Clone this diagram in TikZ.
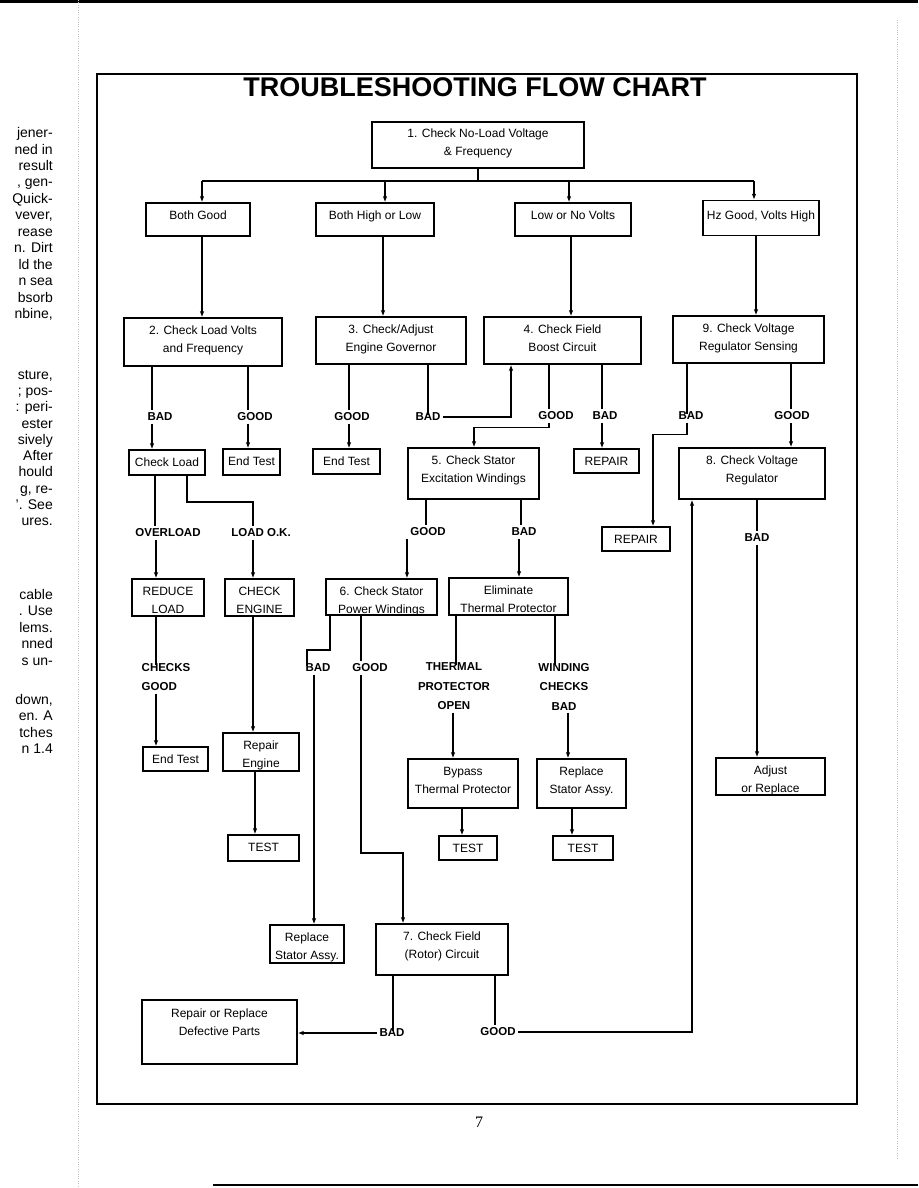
\documentclass[tikz,border=0pt]{standalone}
\usepackage{fontspec}
\setmainfont{Liberation Sans}
\newfontfamily\pagenumfont{Liberation Serif}
\usetikzlibrary{arrows.meta}
\newcommand{\chartboxfont}{\fontsize{12}{18.5}\selectfont}
\newcommand{\charttagfont}{\fontsize{11.5}{19.5}\selectfont\bfseries}
\newcommand{\twolines}[2]{\begin{tabular}[t]{@{}c@{}}#1\\#2\end{tabular}}

\begin{document}
\begin{tikzpicture}[x=1pt,y=-1pt,
  box/.style={draw, line width=1.3pt, inner sep=0pt, font=\chartboxfont, text height=16pt},
  tag/.style={font=\charttagfont, inner sep=2.5pt, align=center},
  frag/.style={anchor=base east, inner sep=0pt, font=\fontsize{14}{14}\selectfont},
  link/.style={line width=1.3pt},
  flow/.style={line width=1.3pt, -{Latex[length=6pt,width=4.5pt]}},
  into/.style={shorten >=-5pt}]
\useasboundingbox (0,0) rectangle (918,1188);

% page of the manual
\draw[line width=3pt] (0,2) -- (918,2);
\draw[line width=2pt] (213,1185) -- (918,1185);
\draw[gray!50, dotted] (78,0) -- (78,1188);
\draw[gray!50, dotted] (897,20) -- (897,1160);
\draw[line width=1.3pt] (97,74) rectangle (857,1104);
\node[font=\pagenumfont\fontsize{16}{16}\selectfont] (pagenum) at (479,1122) {7};
\foreach \yy/\t [count=\k] in {137/jener-, 154/ned in, 170.5/result, 186.5/{, gen-}, 203.5/Quick-,
    219.5/{vever,}, 236.5/rease, 252.5/n. Dirt, 269.5/ld the, 285.5/n sea, 302/bsorb, 318.5/{nbine,},
    379.5/{sture,}, 395.5/; pos-, 411.5/: peri-, 428.5/ester, 444.5/sively, 460.5/After, 476.5/hould,
    493.5/{g, re-}, 509.5/'. See, 525.5/ures., 599.5/cable, 615.5/. Use, 632.5/lems., 648.5/nned,
    665.5/s un-, 704.5/{down,}, 720.5/en. A, 737.5/tches, 753.5/n 1.4}
  \node[frag] (frag\k) at (53,\yy) {\t};

% title and first check
\node[font=\fontsize{27}{27}\selectfont\bfseries] (title) at (475,87) {TROUBLESHOOTING FLOW CHART};
\node[box, minimum width=212, minimum height=46, text height=15pt, text depth=31pt] (b1) at (478,145)
  {\twolines{1. Check No-Load Voltage}{\& Frequency}};

% symptoms
\node[box, minimum width=104, minimum height=33, text depth=17pt] (bothgood) at (198,219.5) {Both Good};
\node[box, minimum width=118, minimum height=33, text depth=17pt] (highlow) at (375,219.5) {Both High or Low};
\node[box, minimum width=116, minimum height=33, text depth=17pt] (lowvolts) at (573,219.5) {Low or No Volts};
\node[box, minimum width=116, minimum height=35, text height=18.5pt, text depth=16.5pt] (hzgood) at (761,218) {Hz Good, Volts High};

% checks 2, 3, 4, 9
\node[box, minimum width=158, minimum height=48, text depth=32pt] (b2) at (203,342) {\twolines{2. Check Load Volts}{and Frequency}};
\node[box, minimum width=150, minimum height=47, text depth=31pt] (b3) at (391,340.5) {\twolines{3. Check/Adjust}{Engine Governor}};
\node[box, minimum width=157, minimum height=47, text depth=31pt] (b4) at (562.5,340.5) {\twolines{4. Check Field}{Boost Circuit}};
\node[box, minimum width=151, minimum height=47, text depth=31pt] (b9) at (748.5,339.5) {\twolines{9. Check Voltage}{Regulator Sensing}};

\node[tag] (bad2) at (160,417) {BAD};
\node[tag] (good2) at (255,417) {GOOD};
\node[tag] (good3) at (352,417) {GOOD};
\node[tag] (bad3) at (428,417) {BAD};
\node[tag] (good4) at (556,416) {GOOD};
\node[tag] (bad4) at (605,416) {BAD};
\node[tag] (bad9) at (691,416) {BAD};
\node[tag] (good9) at (792,416) {GOOD};

\node[box, minimum width=76, minimum height=25, text depth=9pt] (checkload) at (167,462.5) {Check Load};
\node[box, minimum width=57, minimum height=26, text depth=10pt] (endtestA) at (251.5,462) {End Test};
\node[box, minimum width=67, minimum height=25, text depth=9pt] (endtestB) at (346.5,461.5) {End Test};
\node[box, minimum width=131, minimum height=51, text depth=35pt] (b5) at (473.5,473.5) {\twolines{5. Check Stator}{Excitation Windings}};
\node[box, minimum width=65, minimum height=24, text depth=8pt] (repairA) at (606.5,461) {REPAIR};
\node[box, minimum width=146, minimum height=51, text depth=35pt] (b8) at (752,473.5) {\twolines{8. Check Voltage}{Regulator}};

\node[tag] (overload) at (168,533) {OVERLOAD};
\node[tag] (loadok) at (261,533) {LOAD O.K.};
\node[tag] (good5) at (428,532) {GOOD};
\node[tag] (bad5) at (524,532) {BAD};
\node[box, minimum width=68, minimum height=24, text depth=8pt] (repairB) at (636,539) {REPAIR};
\node[tag] (bad8) at (757,538) {BAD};

\node[box, minimum width=72, minimum height=37, text depth=21pt] (reduce) at (168,597.5) {\twolines{REDUCE}{LOAD}};
\node[box, minimum width=69, minimum height=37, text depth=21pt] (checkengine) at (259.5,597.5) {\twolines{CHECK}{ENGINE}};
\node[box, minimum width=111, minimum height=36, text depth=20pt] (b6) at (381.5,597) {\twolines{6. Check Stator}{Power Windings}};
\node[box, minimum width=119, minimum height=37, text depth=21pt] (elim) at (508.5,596.5) {\twolines{Eliminate}{Thermal Protector}};

\node[tag, align=left, anchor=west] (checksgood) at (139,677) {CHECKS\\GOOD};
\node[tag] (bad6) at (318,668) {BAD};
\node[tag] (good6) at (370,668) {GOOD};
\node[tag] (thermal) at (454,686.5) {THERMAL\\PROTECTOR\\OPEN};
\node[tag] (winding) at (564,686.5) {WINDING\\CHECKS\\BAD};

\node[box, minimum width=65, minimum height=24, text depth=8pt] (endtestC) at (175.5,759) {End Test};
\node[box, minimum width=76, minimum height=38, text depth=22pt] (repairengine) at (261,752) {\twolines{Repair}{Engine}};
\node[box, minimum width=110, minimum height=49, text depth=33pt] (bypass) at (463,783.5) {\twolines{Bypass}{Thermal Protector}};
\node[box, minimum width=89, minimum height=49, text depth=33pt] (replaceA) at (581.5,783.5) {\twolines{Replace}{Stator Assy.}};
\node[box, minimum width=109, minimum height=37, text depth=21pt] (adjust) at (770.5,776.5) {\twolines{Adjust}{or Replace}};

\node[box, minimum width=71, minimum height=26, text depth=10pt] (testA) at (263.5,848) {TEST};
\node[box, minimum width=58, minimum height=24, text depth=8pt] (testB) at (468,848) {TEST};
\node[box, minimum width=60, minimum height=24, text depth=8pt] (testC) at (583,848) {TEST};

\node[box, minimum width=74, minimum height=38, text depth=22pt] (replaceB) at (307,944) {\twolines{Replace}{Stator Assy.}};
\node[box, minimum width=132, minimum height=51, text depth=35pt] (b7) at (442,949.5) {\twolines{7. Check Field}{(Rotor) Circuit}};
\node[box, minimum width=155, minimum height=64, text height=17pt, text depth=47pt] (repairdef) at (219.5,1032)
  {\twolines{Repair or Replace}{Defective Parts}};
\node[tag] (bad7) at (392,1033) {BAD};
\node[tag] (good7) at (498,1032) {GOOD};

% connectors
\coordinate (busL) at (202,181);
\coordinate (busR) at (754,181);
\draw[link] (b1.south) -- (b1.south |- busL);
\draw[link] (busL) -- (busR);
\foreach \n/\x in {bothgood/202, highlow/385, lowvolts/569, hzgood/754}
  \draw[flow] (\x,181) -- (\x,0 |- \n.north);
\foreach \a/\b/\x in {bothgood/b2/202, highlow/b3/383, lowvolts/b4/571, hzgood/b9/756}
  \draw[flow] (\x,0 |- \a.south) -- (\x,0 |- \b.north);

\draw[link] (152,0 |- b2.south) -- (152,0 |- bad2.north);
\draw[link] (248,0 |- b2.south) -- (248,0 |- good2.north);
\draw[flow] (152,0 |- bad2.south) -- (152,0 |- checkload.north);
\draw[flow] (248,0 |- good2.south) -- (248,0 |- endtestA.north);

\draw[link] (349,0 |- b3.south) -- (349,0 |- good3.north);
\draw[flow] (349,0 |- good3.south) -- (349,0 |- endtestB.north);
\draw[link, into] (428,0 |- b3.south) -- (428,0 |- bad3.north);
\draw[flow] (bad3.east) -| (511,0 |- b4.south);

\draw[link] (549,0 |- b4.south) -- (549,0 |- good4.north);
\draw[flow] (549,0 |- good4.south) -- ++(0,5) -| (474,0 |- b5.north);
\draw[link] (602,0 |- b4.south) -- (602,0 |- bad4.north);
\draw[flow] (602,0 |- bad4.south) -- (602,0 |- repairA.north);

\draw[link, into] (687,0 |- b9.south) -- (687,0 |- bad9.north);
\draw[flow] (687,0 |- bad9.south) -- ++(0,12) -| (653,0 |- repairB.north);
\draw[link] (791,0 |- b9.south) -- (791,0 |- good9.north);
\draw[flow] (791,0 |- good9.south) -- (791,0 |- b8.north);

\draw[link] (757,0 |- b8.south) -- (bad8.north);
\draw[flow] (bad8.south) -- (757,0 |- adjust.north);

\draw[link] (155,0 |- checkload.south) -- (155,0 |- overload.north);
\draw[link] (187,0 |- checkload.south) -- (187,502) -| (253,0 |- loadok.north);
\draw[flow] (156,0 |- overload.south) -- (156,0 |- reduce.north);
\draw[flow] (253,0 |- loadok.south) -- (253,0 |- checkengine.north);

\draw[link] (426,0 |- b5.south) -- (426,0 |- good5.north);
\draw[link] (521,0 |- b5.south) -- (521,0 |- bad5.north);
\draw[flow] (407,0 |- good5.south) -- (407,0 |- b6.north);
\draw[flow] (519,0 |- bad5.south) -- (519,0 |- elim.north);

\draw[link, into] (156,0 |- reduce.south) -- (156,0 |- checksgood.north);
\draw[flow] (156,0 |- checksgood.south) -- (156,0 |- endtestC.north);
\draw[flow] (253,0 |- checkengine.south) -- (253,0 |- repairengine.north);
\draw[flow] (255,0 |- repairengine.south) -- (255,0 |- testA.north);

\draw[link, into] (330,0 |- b6.south) -- (330,650) -| (307,0 |- bad6.north);
\draw[flow] (314,0 |- bad6.south) -- (314,0 |- replaceB.north);
\draw[link] (361,0 |- b6.south) -- (361,0 |- good6.north);
\draw[flow] (361,0 |- good6.south) -- (361,853) -| (403,0 |- b7.north);

\draw[link, into] (456,0 |- elim.south) -- (456,0 |- thermal.north);
\draw[link, into] (555,0 |- elim.south) -- (555,0 |- winding.north);
\draw[flow] (453,0 |- thermal.south) -- (453,0 |- bypass.north);
\draw[flow] (568,0 |- winding.south) -- (568,0 |- replaceA.north);
\draw[flow] (462,0 |- bypass.south) -- (462,0 |- testB.north);
\draw[flow] (572,0 |- replaceA.south) -- (572,0 |- testC.north);

\draw[link, into] (393,0 |- b7.south) -- (393,0 |- bad7.north);
\draw[flow] (bad7.west) -- (bad7.west -| repairdef.east);
\draw[link] (495,0 |- b7.south) -- (495,0 |- good7.north);
\draw[flow] (good7.east) -| (692,0 |- b8.south);
\end{tikzpicture}
\end{document}
